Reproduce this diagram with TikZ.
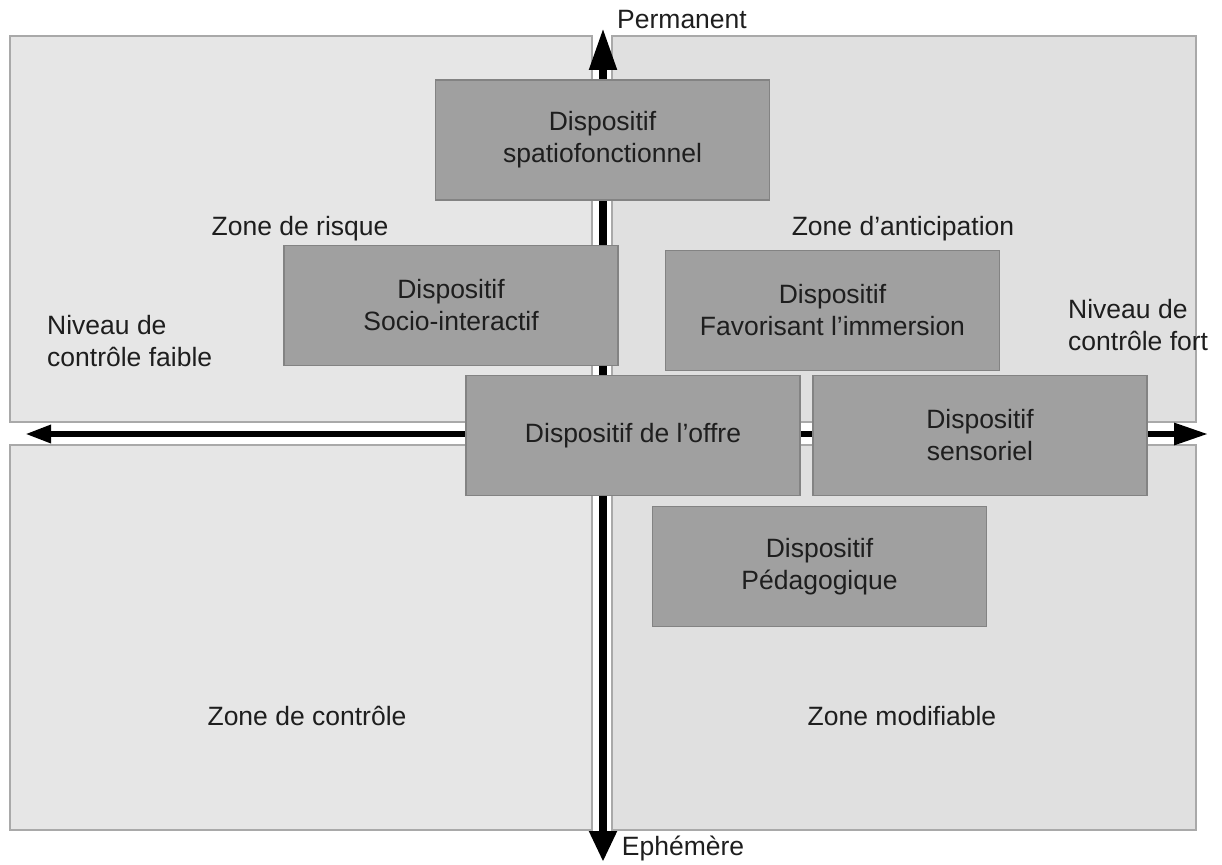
\documentclass[tikz,border=0pt]{standalone}
\usepackage{fontspec}
\setmainfont{Liberation Sans}
\usetikzlibrary{arrows.meta}
\definecolor{quadL}{HTML}{E6E6E6}
\definecolor{quadR}{HTML}{E0E0E0}
\definecolor{quadB}{HTML}{A9A9A9}
\definecolor{dispo}{HTML}{A0A0A0}
\definecolor{dispoB}{HTML}{838383}
\definecolor{txt}{HTML}{1E1E1E}
\tikzset{
  quad/.style={draw=quadB, line width=1.2pt},
  dispbox/.style={draw=dispoB, fill=dispo, line width=1.2pt, minimum width=334pt, minimum height=120pt, align=center, inner sep=0pt, font=\fontsize{26.5}{32}\selectfont, text=txt},
  lbl/.style={font=\fontsize{26.5}{32}\selectfont, text=txt, inner sep=0pt},
}
\begin{document}
\begin{tikzpicture}[x=1pt, y=-1pt]
\useasboundingbox (0,0) rectangle (1222,864);
% quadrants
\fill[quadL] (10,36) rectangle (592,422);
\draw[quad] (10,36) rectangle (592,422);
\fill[quadR] (612,36) rectangle (1196,422);
\draw[quad] (612,36) rectangle (1196,422);
\fill[quadL] (10,445) rectangle (592,830);
\draw[quad] (10,445) rectangle (592,830);
\fill[quadR] (612,445) rectangle (1196,830);
\draw[quad] (612,445) rectangle (1196,830);
% axes
\coordinate (top) at (603,28);
\coordinate (bot) at (603,862);
\coordinate (left) at (25,434);
\coordinate (right) at (1208,434);
\coordinate (mid) at (603,434);
\draw[line width=8pt, -{Triangle[length=42pt, width=26pt]}] (mid) -- (top);
\draw[line width=8pt, -{Triangle[length=31pt, width=26pt]}] (mid) -- (bot);
\draw[line width=6pt, -{Triangle[length=26pt, width=17pt]}] (mid) -- (left);
\draw[line width=6pt, -{Triangle[length=34pt, width=21pt]}] (mid) -- (right);
% axis labels
\node[lbl] (perm) at (682,20) {Permanent};
\node[lbl] (eph) at (683,848) {Ephémère};
\node[lbl, anchor=west, align=left] (faible) at (47,341) {Niveau de\\contrôle faible};
\node[lbl, anchor=west, align=left] (fort) at (1068,325) {Niveau de\\contrôle fort};
% zone labels
\node[lbl] (zrisque) at (300,229) {Zone de risque};
\node[lbl] (zantic) at (903,229) {Zone d’anticipation};
\node[lbl] (zcontrole) at (307,716) {Zone de contrôle};
\node[lbl] (zmodif) at (902,716) {Zone modifiable};
% dispositifs
\node[dispbox] (spatio) at (602.5,140) {Dispositif\\spatiofonctionnel};
\node[dispbox] (socio) at (451,305.5) {Dispositif\\Socio-interactif};
\node[dispbox] (immersion) at (832.5,310.5) {Dispositif\\Favorisant l’immersion};
\node[dispbox] (offre) at (633,435.5) {Dispositif de l’offre};
\node[dispbox] (sensoriel) at (980,435.5) {Dispositif\\sensoriel};
\node[dispbox] (pedago) at (819.5,566.5) {Dispositif\\Pédagogique};
\end{tikzpicture}
\end{document}
